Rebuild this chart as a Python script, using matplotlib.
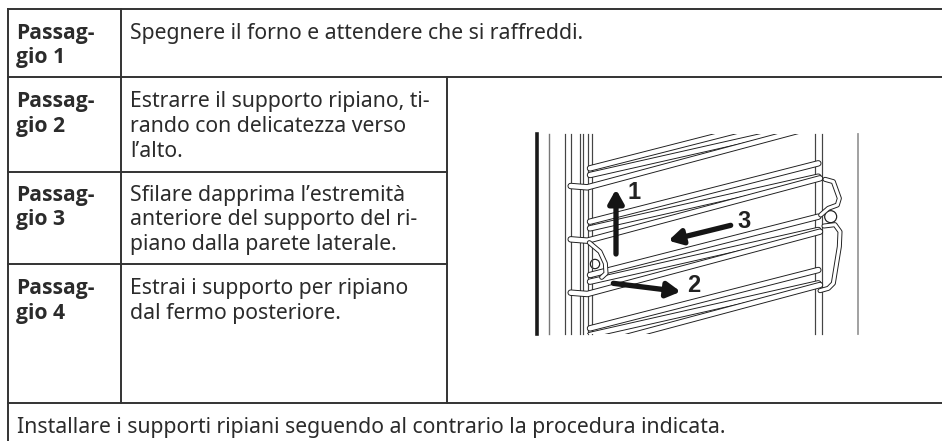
import matplotlib
matplotlib.use("Agg")
import matplotlib.pyplot as plt
from matplotlib.patches import Rectangle

W, H = 942, 441
INK = '#2b2b2b'
LINE = '#333333'
FONT = 'Noto Sans'
BOLD = 'Open Sans'
SIZE = 15.25

# table text, one entry per line of the cell
steps = [['Passag-', 'gio 1'], ['Passag-', 'gio 2'], ['Passag-', 'gio 3'], ['Passag-', 'gio 4']]
texts = [['Spegnere il forno e attendere che si raffreddi.'],
         ['Estrarre il supporto ripiano, ti-', 'rando con delicatezza verso', 'l\u2019alto.'],
         ['Sfilare dapprima l\u2019estremità', 'anteriore del supporto del ri-', 'piano dalla parete laterale.'],
         ['Estrai i supporto per ripiano', 'dal fermo posteriore.']]
note = 'Installare i supporti ripiani seguendo al contrario la procedura indicata.'

# grid, in pixels of the picture
row_y = [9, 77, 171.5, 264, 403]
first_base = [38.5, 107.5, 200.5, 294]
x_left, x_col, x_pic = 7.5, 121, 447
line_step = 24.6

fig = plt.figure(figsize=(W / 100, H / 100), dpi=100)
ax = fig.add_axes([0, 0, 1, 1])
ax.set_xlim(0, W)
ax.set_ylim(H, 0)
ax.axis('off')

lw = 1.4
ax.plot([x_left, x_left], [row_y[0], H], c=LINE, lw=lw)
ax.plot([x_left, W], [row_y[0], row_y[0]], c=LINE, lw=lw)
ax.plot([x_left, W], [row_y[1], row_y[1]], c=LINE, lw=lw)
ax.plot([x_left, W], [row_y[4], row_y[4]], c=LINE, lw=lw)
for y in row_y[2:4]:
    ax.plot([x_left, x_pic], [y, y], c=LINE, lw=lw)
ax.plot([x_col, x_col], [row_y[0], row_y[4]], c=LINE, lw=lw)
ax.plot([x_pic, x_pic], [row_y[1], row_y[4]], c=LINE, lw=lw)

for i in range(4):
    for j, s in enumerate(steps[i]):
        ax.text(16.5, first_base[i] + j * line_step, s, fontsize=SIZE, fontweight='bold',
                family=BOLD, color=INK, va='baseline')
    for j, s in enumerate(texts[i]):
        ax.text(130, first_base[i] + j * line_step, s, fontsize=SIZE,
                family=FONT, color=INK, va='baseline')
ax.text(17, 433, note, fontsize=SIZE, family=FONT, color=INK, va='baseline')

# illustration, uses the 3x coordinates of the crop at (500,120)
pic = fig.add_axes([500 / W, 1 - 370 / H, 360 / W, 250 / H])
pic.set_xlim(0, 1080)
pic.set_ylim(750, 0)
pic.axis('off')
clip = Rectangle((100, 42), 990, 600, transform=pic.transData)
DARK = '#1f1f1f'
px = 0.72

for x in [196, 214, 240, 250, 265, 275, 945, 965]:
    pic.plot([x, x], [42, 642], c='#444444', lw=1.2 * px)
pic.plot([148, 148], [42, 642], c='#777777', lw=1.4 * px)
pic.plot([1075, 1075], [42, 642], c='#999999', lw=1.8 * px)
pic.plot([110, 110], [42, 642], c='#1a1a1a', lw=3.6 * px)


def tube(xs, ys, w=6.4):
    a, = pic.plot(xs, ys, c=DARK, lw=w * px, solid_capstyle='round', solid_joinstyle='round')
    b, = pic.plot(xs, ys, c='white', lw=(w - 1.9) * px, solid_capstyle='round', solid_joinstyle='round')
    a.set_clip_path(clip)
    b.set_clip_path(clip)


group_y = [-20, 140, 300, 460]
for g in group_y:
    tube([270, 955], [g + 165, g - 10])
    tube([270, 955], [g + 185, g + 30])
    tube([212, 262, 960], [g + 218, g + 222, g + 35])

# hooks on the right and left
tube([975, 1000, 1018, 1012, 985, 962], [178, 185, 235, 255, 265, 285], 5)
tube([972, 1005, 1020, 1018, 1000, 985, 960], [318, 314, 335, 380, 490, 505, 512], 5)
tube([268, 300, 316, 318, 305], [368, 395, 430, 460, 472], 5)
for xy, r in [((992, 290), 18), ((285, 432), 14)]:
    pic.add_patch(plt.Circle(xy, r, fc='white', ec=DARK, lw=1.2 * px))

arrow = dict(arrowstyle='-|>,head_width=0.45,head_length=0.8', color='#151515', lw=5.3 * px,
             shrinkA=0, shrinkB=0)
pic.annotate('', xy=(348, 208), xytext=(348, 402), arrowprops=arrow)
pic.annotate('', xy=(542, 515), xytext=(340, 490), arrowprops=arrow)
pic.annotate('', xy=(505, 362), xytext=(692, 316), arrowprops=arrow)
for s, x, y in [('1', 402, 217), ('2', 582, 497), ('3', 733, 303)]:
    pic.text(x, y, s, fontsize=17, fontweight='bold', family='Liberation Sans',
             color='#222222', ha='center', va='center')

fig.savefig('out.png', dpi=100)
